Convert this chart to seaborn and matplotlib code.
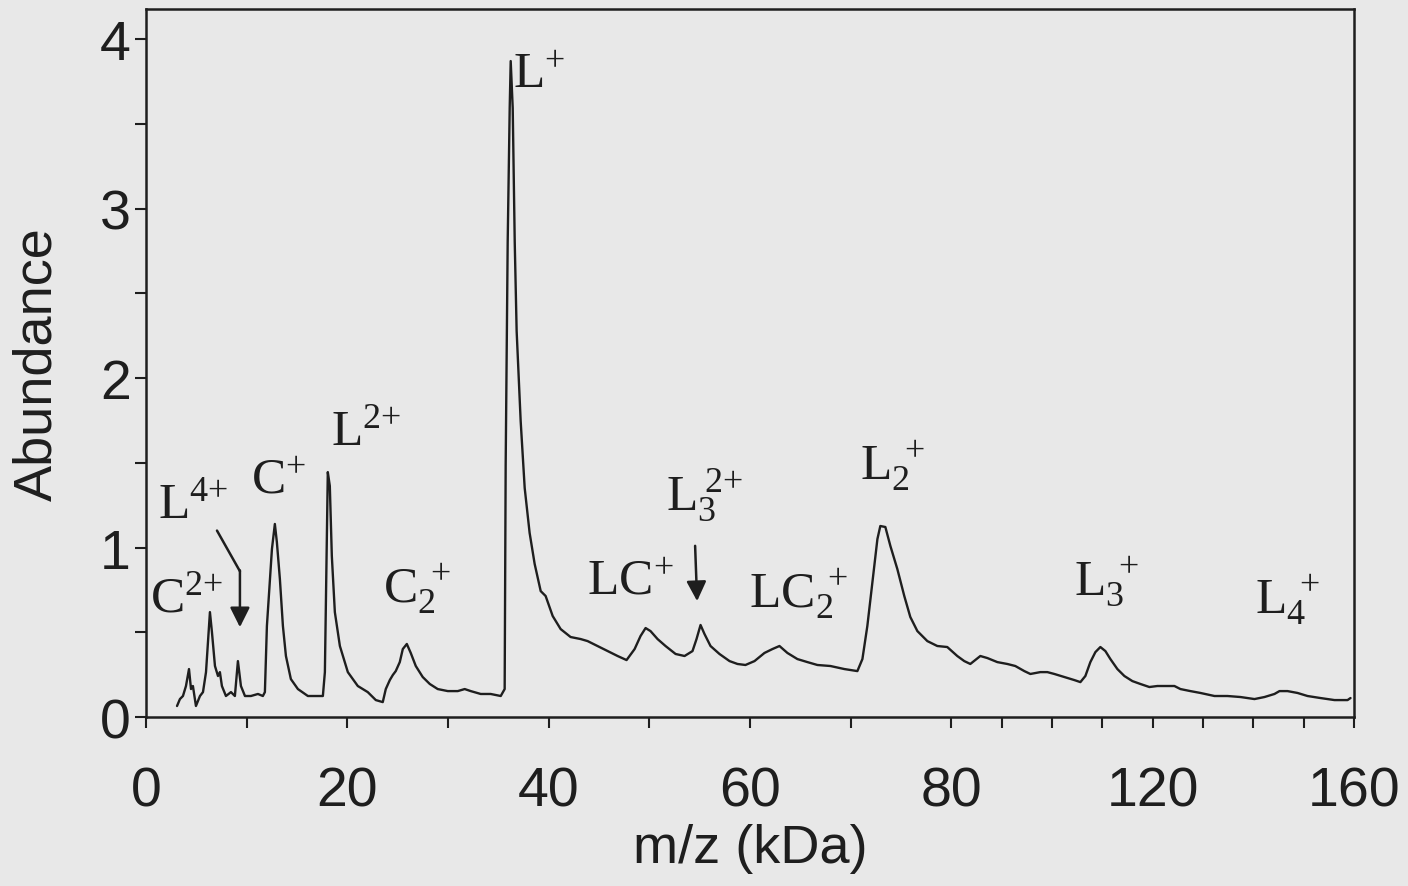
import numpy as np
import pandas as pd
import matplotlib
matplotlib.use("Agg")
import matplotlib.pyplot as plt
import seaborn as sns

# ---------------- data ----------------
mz = [3.08, 3.37, 3.67, 3.97, 4.27, 4.47, 4.66, 4.96, 5.36, 5.66, 5.96, 6.35, 6.55, 6.85,
      7.15, 7.34, 7.54, 7.94, 8.44, 8.83, 9.13, 9.43, 9.83, 10.42, 11.12, 11.61, 11.81,
      12.01, 12.31, 12.51, 12.80, 13.00, 13.30, 13.60, 13.90, 14.39, 15.09, 16.08, 16.87,
      17.57, 17.77, 17.97, 18.06, 18.26, 18.46, 18.76, 19.26, 20.05, 21.04, 22.03, 22.83,
      23.52, 23.82, 24.22, 24.52, 24.81, 25.21, 25.51, 25.91, 26.30, 26.80, 27.49, 28.19,
      28.98, 29.98, 30.97, 31.66, 32.26, 33.25, 34.24, 35.24, 35.63, 35.73, 35.93, 36.13,
      36.23, 36.43, 36.63, 36.82, 37.22, 37.62, 38.11, 38.61, 39.21, 39.70, 40.40, 41.19,
      42.18, 43.18, 43.87, 44.86, 45.86, 46.85, 47.74, 48.54, 49.13, 49.63, 50.12, 50.82,
      51.61, 52.61, 53.50, 54.29, 54.69, 55.09, 55.48, 56.08, 56.97, 57.97, 58.76, 59.55,
      60.45, 61.44, 62.23, 62.93, 63.72, 64.71, 65.71, 66.70, 67.99, 69.38, 70.67, 71.17,
      71.66, 72.16, 72.66, 72.95, 73.45, 73.95, 74.64, 75.33, 75.93, 76.63, 77.62, 78.61,
      79.60, 81.19, 82.58, 83.78, 85.77, 87.16, 89.15, 91.13, 92.72, 94.51, 95.71, 97.69,
      99.09, 100.48, 102.47, 104.45, 105.65, 106.64, 107.63, 108.63, 109.62, 110.62,
      111.61, 113.00, 114.39, 115.98, 117.57, 119.36, 120.95, 122.94, 124.33, 125.53,
      127.51, 129.50, 132.29, 134.87, 137.46, 140.24, 142.23, 144.21, 145.21, 146.80,
      148.79, 150.78, 153.36, 156.14, 158.73, 159.32]
abundance = [0.065, 0.106, 0.124, 0.183, 0.283, 0.165, 0.183, 0.065, 0.124, 0.147, 0.265,
             0.619, 0.501, 0.301, 0.242, 0.265, 0.183, 0.124, 0.147, 0.124, 0.330, 0.183,
             0.124, 0.124, 0.136, 0.124, 0.147, 0.537, 0.814, 0.991, 1.139, 1.032, 0.814,
             0.537, 0.360, 0.224, 0.165, 0.124, 0.124, 0.124, 0.265, 1.050, 1.445, 1.363,
             0.950, 0.619, 0.419, 0.265, 0.183, 0.147, 0.100, 0.088, 0.165, 0.218, 0.248,
             0.271, 0.324, 0.401, 0.431, 0.378, 0.301, 0.236, 0.195, 0.165, 0.153, 0.153,
             0.165, 0.153, 0.136, 0.136, 0.124, 0.165, 1.487, 2.802, 3.593, 3.870, 3.593,
             2.802, 2.277, 1.746, 1.351, 1.086, 0.903, 0.743, 0.714, 0.596, 0.519, 0.472,
             0.460, 0.448, 0.419, 0.389, 0.360, 0.336, 0.401, 0.478, 0.525, 0.507, 0.460,
             0.419, 0.372, 0.360, 0.389, 0.460, 0.543, 0.490, 0.419, 0.372, 0.330, 0.313,
             0.307, 0.330, 0.378, 0.401, 0.419, 0.378, 0.342, 0.324, 0.307, 0.301, 0.283,
             0.271, 0.342, 0.537, 0.796, 1.050, 1.127, 1.121, 1.009, 0.873, 0.714, 0.590,
             0.507, 0.448, 0.419, 0.413, 0.360, 0.330, 0.313, 0.360, 0.348, 0.324, 0.313,
             0.301, 0.271, 0.254, 0.265, 0.265, 0.254, 0.236, 0.218, 0.206, 0.242, 0.324,
             0.383, 0.413, 0.389, 0.342, 0.283, 0.242, 0.212, 0.195, 0.177, 0.183, 0.183,
             0.183, 0.165, 0.153, 0.142, 0.124, 0.124, 0.118, 0.106, 0.118, 0.136, 0.153,
             0.153, 0.142, 0.124, 0.112, 0.100, 0.100, 0.112]

xtick_values = [0, 10, 20, 30, 40, 50, 60, 70, 80, 90, 100, 110, 120, 130, 140, 150, 160]
xtick_labels = ["0", "", "20", "", "40", "", "60", "", "80", "", "", "", "120", "", "", "", "160"]
ytick_values = [0, 0.5, 1, 1.5, 2, 2.5, 3, 3.5, 4]
ytick_labels = ["0", "", "1", "", "2", "", "3", "", "4"]

peak_labels = [r"$\mathrm{L}^{+}$", r"$\mathrm{L}^{2{+}}$", r"$\mathrm{C}^{+}$",
               r"$\mathrm{L}^{4{+}}$", r"$\mathrm{C}^{2{+}}$", r"$\mathrm{C}_{2}^{\;+}$",
               r"$\mathrm{LC}^{+}$", r"$\mathrm{L}_{3}^{\;2{+}}$", r"$\mathrm{LC}_{2}^{\;+}$",
               r"$\mathrm{L}_{2}^{\;+}$", r"$\mathrm{L}_{3}^{\;+}$", r"$\mathrm{L}_{4}^{\;+}$"]
label_mz = [36.43, 18.36, 10.42, 1.19, 0.40, 23.52, 43.77, 51.61, 59.95, 70.97, 104.45, 140.44]
label_ab = [3.717, 1.611, 1.327, 1.180, 0.625, 0.684, 0.726, 1.227, 0.649, 1.404, 0.726, 0.619]

# ---------------- style ----------------
sns.set_theme(style="ticks")
bg = "#e8e8e8"
ink = "#1e1e1e"
plt.rcParams["font.family"] = ["Liberation Sans", "DejaVu Sans"]
plt.rcParams["mathtext.fontset"] = "custom"
plt.rcParams["mathtext.rm"] = "Liberation Serif"
plt.rcParams["mathtext.it"] = "Liberation Serif:italic"
plt.rcParams["mathtext.bf"] = "Liberation Serif:bold"

fig = plt.figure(figsize=(14.08, 8.87), dpi=100, facecolor=bg)
ax = fig.add_axes([0.1037, 0.1905, 0.8579, 0.7982], facecolor=bg)


def fwd(x):
    x = np.asarray(x, dtype=float)
    return np.where(x <= 80, x, 80 + (x - 80) * 0.5)


def inv(u):
    u = np.asarray(u, dtype=float)
    return np.where(u <= 80, u, 80 + (u - 80) * 2.0)


ax.set_xscale("function", functions=(fwd, inv))

df = pd.DataFrame({"mz": mz, "abundance": abundance})
sns.lineplot(data=df, x="mz", y="abundance", ax=ax, color=ink, lw=1.7,
             sort=False, estimator=None)

ax.set_xlim(0, 160)
ax.set_ylim(0, 4.177)

ax.set_xticks(xtick_values)
ax.set_xticklabels(xtick_labels)
ax.set_yticks(ytick_values)
ax.set_yticklabels(ytick_labels)
ax.tick_params(axis="x", direction="out", length=8, width=1.5, color=ink,
               pad=27, labelsize=40, labelcolor=ink)
ax.tick_params(axis="y", direction="out", length=8, width=1.5, color=ink,
               pad=3, labelsize=40, labelcolor=ink)

for s in ax.spines.values():
    s.set_visible(True)
    s.set_linewidth(1.8)
    s.set_color(ink)

ax.set_xlabel("m/z (kDa)", fontsize=39, color=ink)
ax.set_ylabel("Abundance", fontsize=39, color=ink)
ax.xaxis.set_label_coords(0.5, -0.15)
ax.yaxis.set_label_coords(-0.069, 0.5)

for t, x, y in zip(peak_labels, label_mz, label_ab):
    ax.text(x, y, t, fontsize=37, color=ink, ha="left", va="baseline")

# bent arrow for L4+
ax.plot([7.05, 9.33], [1.10, 0.86], color=ink, lw=1.8)
ax.annotate("", xy=(9.33, 0.53), xytext=(9.33, 0.865),
            arrowprops=dict(arrowstyle="-|>", color=ink, lw=1.8,
                            mutation_scale=30, shrinkA=0, shrinkB=0))
# arrow for L3 2+
ax.annotate("", xy=(54.75, 0.684), xytext=(54.55, 1.01),
            arrowprops=dict(arrowstyle="-|>", color=ink, lw=1.8,
                            mutation_scale=30, shrinkA=0, shrinkB=0))

fig.savefig("out.png", dpi=100, facecolor=bg)
